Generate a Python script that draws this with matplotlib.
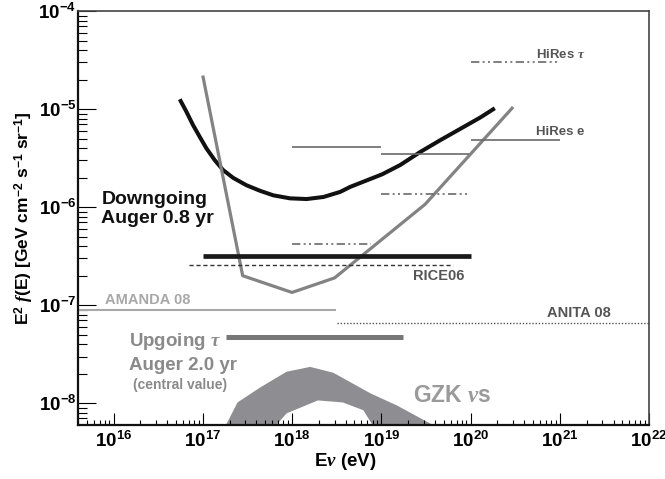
import matplotlib
matplotlib.use('Agg')
import matplotlib.pyplot as plt

plt.rcParams['font.family'] = ['Liberation Sans', 'DejaVu Sans']
plt.rcParams['font.weight'] = 'bold'
plt.rcParams['axes.labelweight'] = 'bold'
plt.rcParams['mathtext.fontset'] = 'custom'
plt.rcParams['mathtext.rm'] = 'Liberation Sans:weight=bold'
plt.rcParams['mathtext.bf'] = 'Liberation Sans:weight=bold'
plt.rcParams['mathtext.it'] = 'Liberation Serif:italic'

# Auger downgoing (0.8 yr) limit
down_e = [5.52e16, 6.56e16, 7.78e16, 9.25e16, 1.10e17, 1.36e17, 1.69e17, 2.19e17,
          3.10e17, 4.37e17, 6.17e17, 9.5e17, 1.46e18, 2.25e18, 3.46e18, 4.49e18,
          1.02e19, 1.63e19, 2.74e19, 4.60e19, 8.41e19, 1.29e20, 1.87e20]
down_f = [1.26e-5, 9.4e-6, 6.87e-6, 5.21e-6, 3.97e-6, 3.02e-6, 2.39e-6, 1.99e-6,
          1.67e-6, 1.47e-6, 1.32e-6, 1.23e-6, 1.21e-6, 1.27e-6, 1.43e-6, 1.61e-6,
          2.16e-6, 2.69e-6, 3.66e-6, 4.83e-6, 6.59e-6, 8.22e-6, 1.02e-5]

# Auger upgoing tau (2.0 yr) limit
up_e = [1.0e17, 2.8e17, 1.0e18, 3.0e18, 3.1e19, 3.0e20]
up_f = [2.2e-5, 2.0e-7, 1.35e-7, 1.9e-7, 1.07e-6, 1.05e-5]

# integrated limits: (E low, E high, flux)
down_int = (1e17, 1e20, 3.2e-7)
up_int = (1.8e17, 1.75e19, 4.7e-8)
rice_int = (7e16, 6.3e19, 2.55e-7)
amanda_int = (1e15, 3.1e18, 8.9e-8)
anita_int = (3.2e18, 2e22, 6.6e-8)

# HiRes per-decade limits
hires_e_lo = [1e18, 1e19, 1e20]
hires_e_hi = [1e19, 9.5e19, 1e21]
hires_e_f = [4.1e-6, 3.5e-6, 4.8e-6]
hires_t_lo = [1e18, 1e19, 1e20]
hires_t_hi = [7.6e18, 9.5e19, 1e21]
hires_t_f = [4.2e-7, 1.35e-6, 3.0e-5]

# GZK neutrino band
gzk_up_e = [1.45e17, 2.45e17, 4.4e17, 8.7e17, 1.6e18, 2.9e18, 7.6e18, 1.5e19, 3.8e19, 6e19]
gzk_up_f = [4e-9, 1.02e-8, 1.45e-8, 2.1e-8, 2.35e-8, 2.05e-8, 1.26e-8, 9.5e-9, 6e-9, 4e-9]
gzk_lo_e = [4.5e17, 8.7e17, 1.95e18, 3.7e18, 6.3e18, 1.05e19]
gzk_lo_f = [4e-9, 7.9e-9, 1.07e-8, 1.02e-8, 8.5e-9, 4e-9]

x_ticks = [1e16, 1e17, 1e18, 1e19, 1e20, 1e21, 1e22]
x_labels = [r'$\mathbf{10^{%d}}$' % p for p in range(16, 23)]
y_ticks = [1e-8, 1e-7, 1e-6, 1e-5, 1e-4]
y_labels = [r'$\mathbf{10^{%d}}$' % p for p in range(-8, -3)]

fig = plt.figure(figsize=(6.65, 4.79), dpi=100)
ax = fig.add_axes([0.117, 0.113, 0.859, 0.864])
ax.set_xscale('log')
ax.set_yscale('log')

# GZK band
ax.fill(gzk_up_e + gzk_lo_e[::-1], gzk_up_f + gzk_lo_f[::-1], color='#8e8e92', lw=0)

ax.plot(down_e, down_f, color='#111111', lw=2.9, solid_capstyle='butt')
ax.plot(up_e, up_f, color='#838383', lw=2.3, solid_capstyle='butt')

ax.hlines(down_int[2], down_int[0], down_int[1], color='#1a1a1a', lw=3.4)
ax.hlines(up_int[2], up_int[0], up_int[1], color='#777777', lw=3.6)
ax.hlines(rice_int[2], rice_int[0], rice_int[1], color='#333333', lw=1.0,
          linestyles=(0, (3, 2)))
ax.hlines(amanda_int[2], amanda_int[0], amanda_int[1], color='#a8a8a8', lw=1.5)
ax.hlines(anita_int[2], anita_int[0], anita_int[1], color='#555555', lw=1.0,
          linestyles=(0, (1, 1.3)))

for lo, hi, f in zip(hires_e_lo, hires_e_hi, hires_e_f):
    ax.hlines(f, lo, hi, color='#6a6a6a', lw=1.2)
for lo, hi, f in zip(hires_t_lo, hires_t_hi, hires_t_f):
    ax.hlines(f, lo, hi, color='#6a6a6a', lw=1.2,
              linestyles=(0, (5, 2, 1.2, 2, 1.2, 2)))

ax.set_xlim(10 ** 15.6, 1e22)
ax.set_ylim(10 ** -8.22, 1e-4)

ax.set_xticks(x_ticks, x_labels, fontsize=13.5)
ax.set_yticks(y_ticks, y_labels, fontsize=13.5)
ax.tick_params(axis='x', which='major', direction='in', length=8.6, width=0.8, pad=4)
ax.tick_params(axis='x', which='minor', direction='in', length=3.8, width=0.8)
ax.tick_params(axis='y', which='major', direction='in', length=13, width=0.8, pad=1)
ax.tick_params(axis='y', which='minor', direction='in', length=6.5, width=0.8)

for s in ['left', 'bottom']:
    ax.spines[s].set_linewidth(1.6)
    ax.spines[s].set_color('#111111')
for s in ['top', 'right']:
    ax.spines[s].set_linewidth(1.2)
    ax.spines[s].set_color('#444444')

ax.set_xlabel(r'E$\nu$ (eV)', fontsize=13.5, va='top')
ax.xaxis.set_label_coords(0.468, -0.062)
ax.set_ylabel(r'E$^{\mathbf{2}}$ $\mathit{f}$(E) [GeV cm$^{\mathbf{-2}}$ s$^{\mathbf{-1}}$ sr$^{\mathbf{-1}}$]',
              fontsize=12.5)
ax.yaxis.set_label_coords(-0.073, 0.5)

# labels
ax.text(10 ** 15.865, 10 ** -6.015, 'Downgoing\nAuger 0.8 yr', fontsize=14,
        color='#111111', ha='left', va='center', linespacing=1.15)
ax.text(10 ** 16.17, 10 ** -7.418, r'Upgoing $\tau$', fontsize=13.5, color='#8a8a8a')
ax.text(10 ** 16.17, 10 ** -7.663, 'Auger 2.0 yr', fontsize=13.5, color='#8a8a8a')
ax.text(10 ** 16.213, 10 ** -7.857, '(central value)', fontsize=10, color='#8a8a8a')
ax.text(10 ** 19.35, 10 ** -7.99, r'GZK $\nu$s', fontsize=16.5, color='#9a9a9a')
ax.text(10 ** 20.73, 10 ** -4.48, r'HiRes $\tau$', fontsize=9.5, color='#555555')
ax.text(10 ** 20.73, 10 ** -5.265, 'HiRes e', fontsize=9.5, color='#555555')
ax.text(10 ** 19.35, 10 ** -6.745, 'RICE06', fontsize=10.5, color='#555555')
ax.text(10 ** 20.854, 10 ** -7.122, 'ANITA 08', fontsize=10.5, color='#555555')
ax.text(10 ** 15.9, 10 ** -6.99, 'AMANDA 08', fontsize=10.5, color='#a8a8a8')

fig.savefig('out.png', dpi=100)
